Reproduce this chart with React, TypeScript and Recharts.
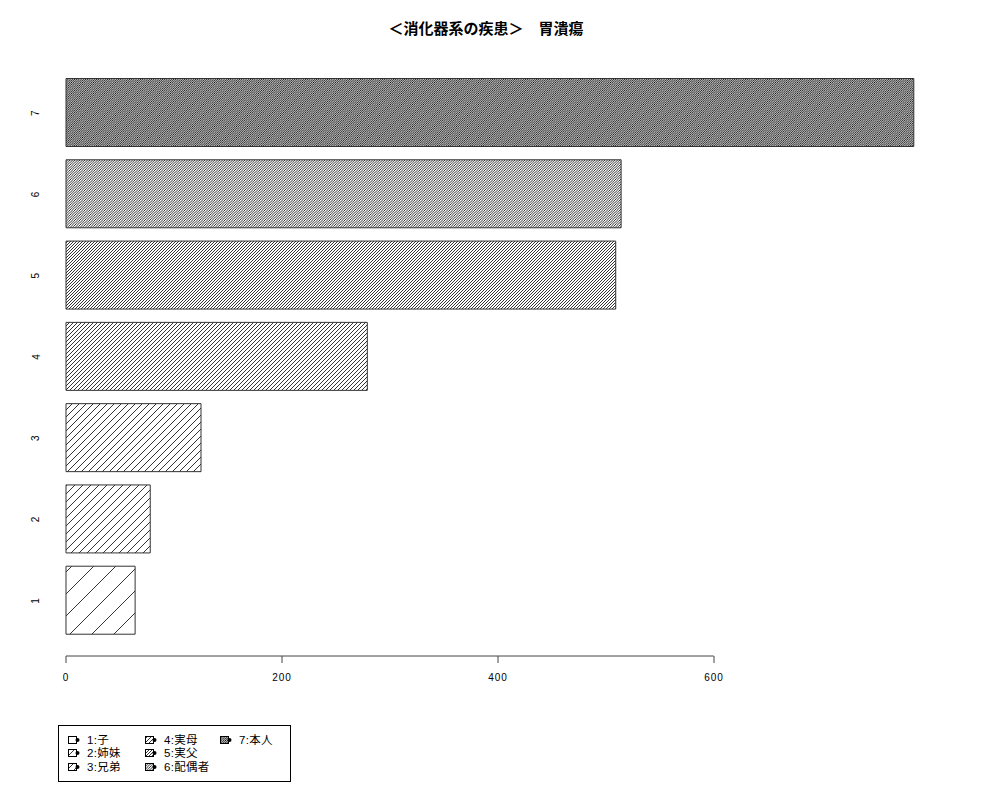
import { BarChart, Bar, XAxis, YAxis, Cell } from 'recharts';

const categories = ['1', '2', '3', '4', '5', '6', '7'];
const counts = [64, 78, 125, 279, 509, 514, 785];
const legendLabels = ['1:子', '2:姉妹', '3:兄弟', '4:実母', '5:実父', '6:配偶者', '7:本人'];
const xTicks = [0, 200, 400, 600];

// horizontal distance between hatch lines, one per bar (R density)
const hatchGaps = [22, 8, 7, 4, 3, 2.5, 2.2];

const FONT = '"Liberation Sans", "Noto Sans CJK JP", sans-serif';

const chartData = categories.map((c, i) => ({ cat: c, value: counts[i] }));

function Hatch({ id, gap }: { id: string; gap: number }) {
  const h = gap;
  const d = `M0,${h} L${h},0 M${-h / 2},${h / 2} L${h / 2},${-h / 2} M${h / 2},${1.5 * h} L${1.5 * h},${h / 2}`;
  return (
    <pattern id={id} patternUnits="userSpaceOnUse" width={h} height={h}>
      <rect width={h} height={h} fill="#fff" />
      <path d={d} stroke="#000" strokeWidth={0.8} fill="none" />
    </pattern>
  );
}

const YTick = ({ y, payload }: any) => (
  <text
    x={36}
    y={y}
    transform={`rotate(-90, 36, ${y})`}
    textAnchor="middle"
    dominantBaseline="central"
    fontSize={10}
    fontFamily={FONT}
    letterSpacing={1}
    fill="#000"
  >
    {payload.value}
  </text>
);

function LegendKey({ idx }: { idx: number }) {
  const id = `lg-hatch-${idx}`;
  return (
    <svg width={14} height={10} style={{ display: 'block' }}>
      <defs>
        <Hatch id={id} gap={hatchGaps[idx]} />
      </defs>
      <rect x={0.5} y={1.5} width={8} height={7} fill={`url(#${id})`} stroke="#000" strokeWidth={1} />
      <circle cx={9.5} cy={5} r={2} fill="#000" />
    </svg>
  );
}

export default function App() {
  const colX = [68, 145, 220];
  const rowY = [734, 747, 761];
  return (
    <div style={{ position: 'absolute', left: 0, top: 0, width: 1000, height: 800, background: '#fff' }}>
      <div
        style={{
          position: 'absolute',
          top: 17,
          left: 0,
          width: 972,
          textAlign: 'center',
          fontFamily: '"Noto Sans CJK JP", sans-serif',
          fontWeight: 700,
          fontSize: 15,
          color: '#000',
        }}
      >
        ＜消化器系の疾患＞　胃潰瘍
      </div>
      <BarChart
        width={1000}
        height={800}
        data={chartData}
        layout="vertical"
        margin={{ top: 72, right: 70, bottom: 114, left: 0 }}
        barCategoryGap="8%"
      >
        <defs>
          {hatchGaps.map((g, i) => (
            <Hatch key={i} id={`hatch-${i}`} gap={g} />
          ))}
        </defs>
        <XAxis
          type="number"
          domain={[0, 800]}
          ticks={xTicks}
          height={30}
          axisLine={{ stroke: '#444', strokeDasharray: '647.7 2000' }}
          tickLine={{ stroke: '#444' }}
          tickSize={7}
          tickMargin={11}
          tick={{ fontSize: 10, fill: '#000', fontFamily: FONT, letterSpacing: 1 }}
        />
        <YAxis
          type="category"
          dataKey="cat"
          reversed
          width={66}
          axisLine={false}
          tickLine={false}
          padding={{ top: 0, bottom: 15 }}
          tick={<YTick />}
        />
        <Bar dataKey="value" isAnimationActive={false} stroke="#333" strokeWidth={1}>
          {chartData.map((_, i) => (
            <Cell key={i} fill={`url(#hatch-${i})`} />
          ))}
        </Bar>
      </BarChart>
      <div
        style={{
          position: 'absolute',
          left: 58,
          top: 725,
          width: 233,
          height: 57,
          border: '1px solid #000',
          boxSizing: 'border-box',
        }}
      />
      {legendLabels.map((label, i) => {
        const col = Math.floor(i / 3);
        const row = i % 3;
        return (
          <div
            key={label}
            style={{
              position: 'absolute',
              left: colX[col],
              top: rowY[row],
              display: 'flex',
              alignItems: 'center',
              fontFamily: FONT,
              fontSize: 11.5,
              letterSpacing: 0.3,
              lineHeight: '12px',
              color: '#000',
            }}
          >
            <LegendKey idx={i} />
            <span style={{ marginLeft: 5 }}>{label}</span>
          </div>
        );
      })}
    </div>
  );
}
